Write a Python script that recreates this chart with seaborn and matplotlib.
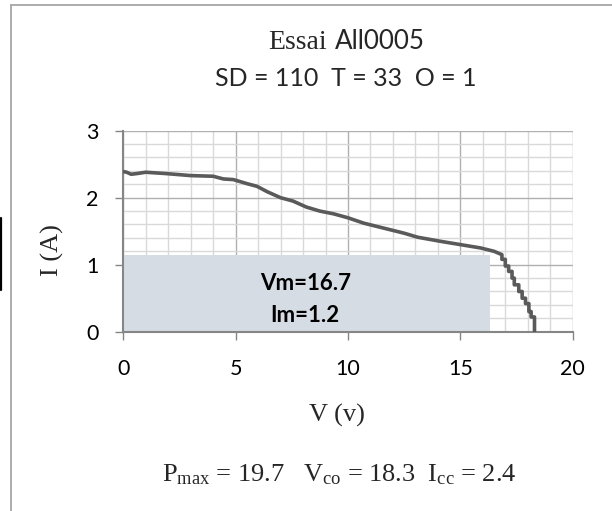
import matplotlib
matplotlib.use("Agg")
import matplotlib.pyplot as plt
import seaborn as sns
import pandas as pd
from matplotlib.lines import Line2D
from matplotlib.patches import Rectangle
from matplotlib.ticker import MultipleLocator

# ---- data ----
V = [0.0, 0.15, 0.35, 0.6, 1.0, 1.9, 3.0, 4.0, 4.45, 4.9, 5.5, 5.95, 6.4, 7.0,
     7.55, 8.15, 8.75, 9.35, 10.0, 10.7, 11.3, 11.9, 12.5, 13.1, 14.1, 15.0,
     15.9, 16.5, 16.85, 16.85, 17.0, 17.0, 17.15, 17.15, 17.3, 17.3, 17.4, 17.4,
     17.6, 17.6, 17.75, 17.75, 17.9, 17.9, 18.05, 18.05, 18.15, 18.15, 18.3, 18.3]
I = [2.39, 2.38, 2.35, 2.36, 2.38, 2.36, 2.33, 2.32, 2.28, 2.27, 2.21, 2.17, 2.09, 2.00,
     1.95, 1.86, 1.80, 1.76, 1.70, 1.62, 1.57, 1.52, 1.47, 1.41, 1.35, 1.30,
     1.25, 1.20, 1.15, 1.08, 1.08, 0.98, 0.98, 0.90, 0.90, 0.80, 0.80, 0.70,
     0.70, 0.60, 0.60, 0.50, 0.50, 0.42, 0.42, 0.30, 0.30, 0.22, 0.22, 0.0]
rect_v = 16.3
rect_i = 1.15
x_ticks = [0, 5, 10, 15, 20]
y_ticks = [0, 1, 2, 3]
title_parts = ["Essai", "All0005"]
subtitle_text = "SD = 110  T = 33  O = 1"
box_lines = ["Vm=16.7", "Im=1.2"]
x_label = "V (v)"
y_label = "I (A)"
footer = r"P$_{\mathrm{max}}$ = 19.7   V$_{\mathrm{co}}$ = 18.3  I$_{\mathrm{cc}}$ = 2.4"

sns.set_style("white")
plt.rcParams["font.family"] = ["Lato", "DejaVu Sans"]
plt.rcParams["mathtext.fontset"] = "custom"
plt.rcParams["mathtext.rm"] = "Liberation Serif"
plt.rcParams["mathtext.it"] = "Liberation Serif:italic"

W, H = 612, 511
fig = plt.figure(figsize=(6.12, 5.11), dpi=100)
fig.patch.set_facecolor("white")

x0, x1 = 123.3, 572.7
y0, y1 = 331.7, 130.7
ax = fig.add_axes([x0 / W, 1 - y0 / H, (x1 - x0) / W, (y0 - y1) / H])

df = pd.DataFrame({"V": V, "I": I})
sns.lineplot(data=df, x="V", y="I", sort=False, estimator=None, ax=ax,
             color="#5a5a5a", linewidth=2.6, zorder=4)

ax.add_patch(Rectangle((-0.07, 0), rect_v + 0.07, rect_i, facecolor="#d6dce4",
                       edgecolor="none", zorder=2))
ax.text(rect_v / 2 - 0.05, 0.72, box_lines[0], ha="center", va="center",
        fontsize=16, fontweight="bold", color="black", zorder=5)
ax.text(rect_v / 2 - 0.05, 0.24, box_lines[1], ha="center", va="center",
        fontsize=16, fontweight="bold", color="black", zorder=5)

ax.set_xlim(0, 20)
ax.set_ylim(0, 3)
ax.set_xticks(x_ticks)
ax.set_yticks(y_ticks)
ax.set_xticklabels([str(t) for t in x_ticks])
ax.set_yticklabels([str(t) for t in y_ticks])
ax.xaxis.set_minor_locator(MultipleLocator(1))
ax.yaxis.set_minor_locator(MultipleLocator(0.2))
ax.set_axisbelow(True)
ax.grid(which="minor", color="#d9d9d9", linewidth=1.0)
ax.grid(which="major", color="#b0b0b0", linewidth=1.0)
ax.tick_params(which="minor", length=0)
ax.tick_params(which="major", direction="out", length=6, width=1.0,
               color="#868686", labelsize=15.5, labelcolor="black",
               left=True, bottom=True)
ax.tick_params(axis="y", pad=12)
ax.tick_params(axis="x", pad=14)
for s in ["top", "right"]:
    ax.spines[s].set_visible(False)
for s in ["left", "bottom"]:
    ax.spines[s].set_color("#868686")
    ax.spines[s].set_linewidth(1.5)
ax.set_xlabel("")
ax.set_ylabel("")

def fx(px):
    return px / W

def fy(py):
    return 1 - py / H

fig.text(fx(268.3), fy(49.3), title_parts[0], ha="left", va="baseline",
         fontsize=20, family=["Liberation Serif"])
fig.text(fx(335), fy(49.3), title_parts[1], ha="left", va="baseline",
         fontsize=18.7)
fig.text(fx(346), fy(85.5), subtitle_text, ha="center", va="baseline",
         fontsize=18)
fig.text(fx(337), fy(421.7), x_label, ha="center", va="baseline",
         fontsize=19, family=["Liberation Serif"])
fig.text(fx(52), fy(250), y_label, ha="center", va="center", rotation=90,
         fontsize=19, family=["Liberation Serif"])
fig.text(fx(162), fy(481.7), footer, ha="left", va="baseline",
         fontsize=19, family=["Liberation Serif"])

# chart frame and stray mark
fig.add_artist(Line2D([fx(11), fx(612)], [fy(5), fy(5)], color="#a6a6a6", linewidth=1.3))
fig.add_artist(Line2D([fx(11), fx(11)], [fy(5), fy(511)], color="#a6a6a6", linewidth=1.3))
fig.add_artist(Line2D([fx(1), fx(1)], [fy(218), fy(290)], color="black", linewidth=1.6))

fig.savefig("out.png", dpi=100)
